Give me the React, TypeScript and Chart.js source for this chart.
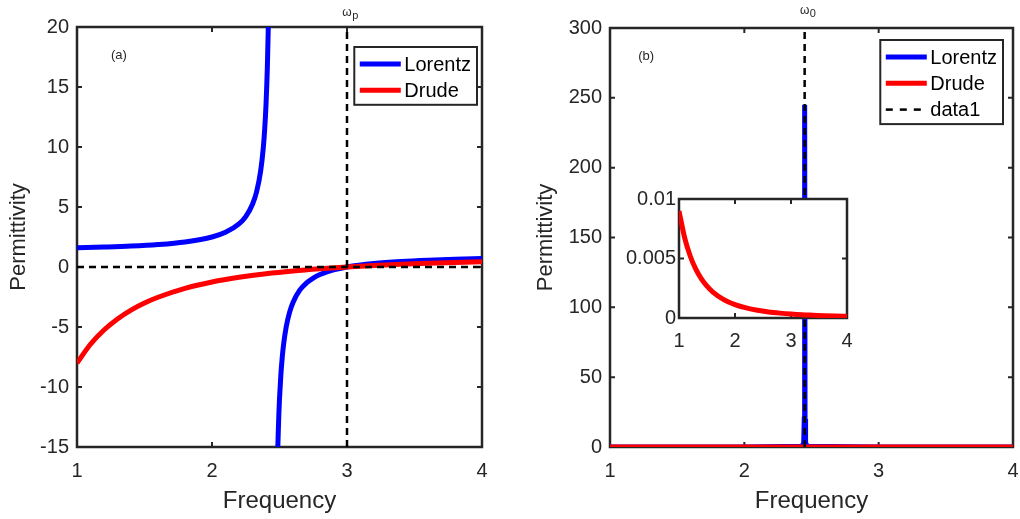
import React, { useEffect, useRef } from "react";
import { Chart, registerables } from "chart.js";

Chart.register(...registerables);

const FONT = "'Liberation Sans', Arial, Helvetica, sans-serif";
const AXIS = "#262626";
const BLUE = "#0000ff";
const RED = "#ff0000";
const BLACK = "#000000";

// ---------- tick labels ----------
const FREQ_TICKS = [1, 2, 3, 4];
const PERM_TICKS_A = [-15, -10, -5, 0, 5, 10, 15, 20];
const PERM_TICKS_B = [0, 50, 100, 150, 200, 250, 300];
const INSET_TICKS = [0, 0.005, 0.01];

// ---------- marker lines ----------
const OMEGA_P = 3;
const OMEGA_0 = 2.449;

// ---------- panel (a): real permittivity ----------
const LORENTZ_A_FREQ = [1, 1.2, 1.4, 1.6, 1.8, 2.0, 2.1, 2.2, 2.25, 2.3, 2.33, 2.36, 2.38, 2.39, 2.4, 2.41, 2.417, 2.45, 2.4875, 2.495, 2.5, 2.51, 2.52, 2.53, 2.55, 2.575, 2.6, 2.65, 2.7, 2.75, 2.8, 2.9, 3.0, 3.2, 3.4, 3.6, 3.8, 4.0];
const LORENTZ_A_PERM = [1.6, 1.66, 1.74, 1.87, 2.09, 2.5, 2.89, 3.59, 4.2, 5.23, 6.25, 7.97, 9.94, 11.42, 13.5, 16.63, 20, null, -15, -12.33, -11, -9.0, -7.56, -6.48, -4.97, -3.76, -2.95, -1.93, -1.33, -0.92, -0.63, -0.245, 0, 0.29, 0.46, 0.57, 0.645, 0.7];
const DRUDE_A_FREQ = [1, 1.1, 1.2, 1.3, 1.4, 1.5, 1.6, 1.8, 2.0, 2.2, 2.4, 2.6, 2.8, 3.0, 3.2, 3.4, 3.6, 3.8, 4.0];
const DRUDE_A_PERM = [-8, -6.44, -5.25, -4.33, -3.59, -3, -2.52, -1.78, -1.25, -0.86, -0.56, -0.33, -0.15, 0, 0.12, 0.22, 0.31, 0.38, 0.44];

// ---------- panel (b): imaginary permittivity ----------
const LORENTZ_B_FREQ = [1, 2, 2.43, 2.442, 2.446, 2.449, 2.452, 2.456, 2.468, 3, 4];
const LORENTZ_B_PERM = [0, 0, 0.5, 3, 20, 245, 20, 3, 0.5, 0, 0];
const DRUDE_B_FREQ = [1, 1.1, 1.2, 1.3, 1.4, 1.5, 1.6, 1.8, 2.0, 2.2, 2.4, 2.6, 2.8, 3.0, 3.2, 3.4, 3.6, 3.8, 4.0];
const DRUDE_B_PERM = [0.009, 0.00676, 0.00521, 0.0041, 0.00328, 0.00267, 0.0022, 0.00154, 0.00113, 0.00085, 0.00065, 0.00051, 0.00041, 0.00033, 0.00027, 0.00023, 0.00019, 0.00016, 0.00014];

const pts = (xs: number[], ys: (number | null)[]) => xs.map((x, i) => ({ x, y: ys[i] }));

const fixedTicks = (values: number[]) => (scale: any) => {
  scale.ticks = values.map((v) => ({ value: v }));
};

// ---------- plugins ----------
const framePlugin = {
  id: "frame",
  beforeDatasetsDraw(chart: any, _a: any, opts: any) {
    const { ctx, chartArea: a, scales } = chart;
    ctx.save();
    if (opts && opts.fill) {
      ctx.fillStyle = opts.fill;
      ctx.fillRect(a.left, a.top, a.right - a.left, a.bottom - a.top);
    }
    ctx.strokeStyle = AXIS;
    ctx.lineWidth = 2.5;
    ctx.strokeRect(a.left, a.top, a.right - a.left, a.bottom - a.top);
    ctx.lineWidth = 2;
    const L = 5;
    ctx.beginPath();
    for (const t of scales.x.ticks) {
      const px = scales.x.getPixelForValue(t.value);
      ctx.moveTo(px, a.bottom);
      ctx.lineTo(px, a.bottom - L);
      ctx.moveTo(px, a.top);
      ctx.lineTo(px, a.top + L);
    }
    for (const t of scales.y.ticks) {
      const py = scales.y.getPixelForValue(t.value);
      ctx.moveTo(a.left, py);
      ctx.lineTo(a.left + L, py);
      ctx.moveTo(a.right, py);
      ctx.lineTo(a.right - L, py);
    }
    ctx.stroke();
    ctx.restore();
  },
};

const boxLegendPlugin = {
  id: "boxLegend",
  afterDraw(chart: any, _a: any, opts: any) {
    if (!opts || !opts.show) return;
    const { ctx, chartArea: a } = chart;
    const ds = chart.data.datasets.filter((d: any) => d.inLegend);
    ctx.save();
    ctx.font = `20px ${FONT}`;
    const textW = Math.max(...ds.map((d: any) => ctx.measureText(d.label).width));
    const padL = 5.5, lineLen = 41, gap = 3.5, padR = 6, padT = 17, rowH = 26.3, padB = 14.5;
    const w = padL + lineLen + gap + textW + padR;
    const h = padT + rowH * (ds.length - 1) + padB;
    const x0 = a.right - opts.right - w;
    const y0 = a.top + opts.top;
    ctx.fillStyle = "#ffffff";
    ctx.fillRect(x0, y0, w, h);
    ctx.strokeStyle = AXIS;
    ctx.lineWidth = 2;
    ctx.strokeRect(x0, y0, w, h);
    ds.forEach((d: any, i: number) => {
      const cy = y0 + padT + i * rowH;
      ctx.beginPath();
      ctx.strokeStyle = d.borderColor;
      ctx.lineWidth = d.legendWidth || d.borderWidth;
      ctx.setLineDash(d.legendDash || []);
      ctx.moveTo(x0 + padL, cy);
      ctx.lineTo(x0 + padL + lineLen, cy);
      ctx.stroke();
      ctx.setLineDash([]);
      ctx.fillStyle = BLACK;
      ctx.textAlign = "left";
      ctx.textBaseline = "middle";
      ctx.fillText(d.label, x0 + padL + lineLen + gap, cy + 1);
    });
    ctx.restore();
  },
};

const notePlugin = {
  id: "notes",
  afterDraw(chart: any, _a: any, opts: any) {
    const { ctx, scales } = chart;
    for (const n of (opts && opts.items) || []) {
      const px = scales.x.getPixelForValue(n.x);
      const py = scales.y.getPixelForValue(n.y);
      ctx.save();
      ctx.fillStyle = AXIS;
      ctx.font = `${n.size}px ${FONT}`;
      if (n.sub) {
        const w = ctx.measureText(n.text).width;
        ctx.textAlign = "center";
        ctx.textBaseline = "alphabetic";
        ctx.fillText(n.text, px, py);
        ctx.font = `${n.subSize}px ${FONT}`;
        ctx.textAlign = "left";
        ctx.fillText(n.sub, px + w / 2 + 0.5, py + 3);
      } else {
        ctx.textAlign = "left";
        ctx.textBaseline = "middle";
        ctx.fillText(n.text, px, py);
      }
      ctx.restore();
    }
  },
};

// ---------- scale helpers ----------
function freqAxis(labelPad: number, title: string | null, height: number) {
  return {
    type: "linear",
    position: "bottom",
    min: 1,
    max: 4,
    grid: { display: false, drawTicks: false },
    border: { display: false },
    afterBuildTicks: fixedTicks(FREQ_TICKS),
    ticks: {
      padding: labelPad,
      color: AXIS,
      font: { family: FONT, size: 20 },
      maxRotation: 0,
      autoSkip: false,
      callback: (v: any) => String(v),
    },
    title: title
      ? { display: true, text: title, color: AXIS, font: { family: FONT, size: 24 }, padding: { top: 0, bottom: 3 } }
      : { display: false },
    afterFit: (s: any) => {
      s.height = height;
      s.paddingLeft = 0;
      s.paddingRight = 0;
    },
  };
}

function permAxis(ticks: number[], labelPad: number, title: string | null, titlePad: number, width: number) {
  return {
    type: "linear",
    position: "left",
    min: ticks[0],
    max: ticks[ticks.length - 1],
    grid: { display: false, drawTicks: false },
    border: { display: false },
    afterBuildTicks: fixedTicks(ticks),
    ticks: {
      padding: labelPad,
      color: AXIS,
      font: { family: FONT, size: 20 },
      autoSkip: false,
      callback: (v: any) => String(v),
    },
    title: title
      ? { display: true, text: title, color: AXIS, font: { family: FONT, size: 22 }, padding: { top: titlePad, bottom: 0 } }
      : { display: false },
    afterFit: (s: any) => {
      s.width = width;
      s.paddingTop = 0;
      s.paddingBottom = 0;
    },
  };
}

const baseOptions = {
  responsive: false,
  animation: false,
  events: [],
  devicePixelRatio: 1,
};

// ---------- configs ----------
function configA(): any {
  return {
    type: "line",
    data: {
      datasets: [
        {
          label: "Lorentz",
          data: pts(LORENTZ_A_FREQ, LORENTZ_A_PERM),
          borderColor: BLUE,
          borderWidth: 5,
          pointRadius: 0,
          cubicInterpolationMode: "monotone",
          spanGaps: false,
          inLegend: true,
          order: 2,
        },
        {
          label: "Drude",
          data: pts(DRUDE_A_FREQ, DRUDE_A_PERM),
          borderColor: RED,
          borderWidth: 5,
          pointRadius: 0,
          cubicInterpolationMode: "monotone",
          inLegend: true,
          order: 1,
        },
        {
          label: "zero",
          data: [
            { x: FREQ_TICKS[0], y: 0 },
            { x: FREQ_TICKS[FREQ_TICKS.length - 1], y: 0 },
          ],
          borderColor: BLACK,
          borderWidth: 2.5,
          borderDash: [7, 5],
          pointRadius: 0,
          order: 0,
        },
        {
          label: "wp",
          data: [
            { x: OMEGA_P, y: PERM_TICKS_A[0] },
            { x: OMEGA_P, y: PERM_TICKS_A[PERM_TICKS_A.length - 1] },
          ],
          borderColor: BLACK,
          borderWidth: 2.5,
          borderDash: [7, 5],
          pointRadius: 0,
          order: 0,
        },
      ],
    },
    options: {
      ...baseOptions,
      layout: { padding: { left: 0, right: 28, top: 27, bottom: 0 } },
      scales: {
        x: freqAxis(12, "Frequency", 72),
        y: permAxis(PERM_TICKS_A, 8, "Permittivity", 6, 77),
      },
      plugins: {
        legend: { display: false },
        tooltip: { enabled: false },
        frame: {},
        boxLegend: { show: true, right: 5, top: 20 },
        notes: {
          items: [
            { x: 1.252, y: 17.6, text: "(a)", size: 13 },
            { x: OMEGA_P, y: 20.92, text: "ω", sub: "p", size: 12, subSize: 11 },
          ],
        },
      },
    },
    plugins: [framePlugin, boxLegendPlugin, notePlugin],
  };
}

function configB(): any {
  return {
    type: "line",
    data: {
      datasets: [
        {
          label: "Lorentz",
          data: pts(LORENTZ_B_FREQ, LORENTZ_B_PERM),
          borderColor: BLUE,
          borderWidth: 5,
          pointRadius: 0,
          inLegend: true,
          order: 2,
        },
        {
          label: "Drude",
          data: pts(DRUDE_B_FREQ, DRUDE_B_PERM),
          borderColor: RED,
          borderWidth: 5,
          pointRadius: 0,
          cubicInterpolationMode: "monotone",
          inLegend: true,
          order: 1,
        },
        {
          label: "data1",
          data: [
            { x: OMEGA_0, y: PERM_TICKS_B[0] },
            { x: OMEGA_0, y: PERM_TICKS_B[PERM_TICKS_B.length - 1] },
          ],
          borderColor: BLACK,
          borderWidth: 2.5,
          borderDash: [7, 5],
          legendDash: [7, 7],
          pointRadius: 0,
          inLegend: true,
          order: 0,
        },
      ],
    },
    options: {
      ...baseOptions,
      layout: { padding: { left: 0, right: 7, top: 28, bottom: 0 } },
      scales: {
        x: freqAxis(12, "Frequency", 72),
        y: permAxis(PERM_TICKS_B, 8, "Permittivity", 23, 100),
      },
      plugins: {
        legend: { display: false },
        tooltip: { enabled: false },
        frame: {},
        boxLegend: { show: true, right: 10, top: 12 },
        notes: {
          items: [
            { x: 1.21, y: 279.5, text: "(b)", size: 13 },
            { x: OMEGA_0, y: 310, text: "ω", sub: "0", size: 12, subSize: 11 },
          ],
        },
      },
    },
    plugins: [framePlugin, boxLegendPlugin, notePlugin],
  };
}

function configInset(): any {
  return {
    type: "line",
    data: {
      datasets: [
        {
          label: "Drude",
          data: pts(DRUDE_B_FREQ, DRUDE_B_PERM),
          borderColor: RED,
          borderWidth: 5,
          pointRadius: 0,
          cubicInterpolationMode: "monotone",
        },
      ],
    },
    options: {
      ...baseOptions,
      layout: { padding: { left: 0, right: 13, top: 14, bottom: 0 } },
      scales: {
        x: freqAxis(11, null, 37),
        y: permAxis(INSET_TICKS, 3, null, 0, 79),
      },
      plugins: {
        legend: { display: false },
        tooltip: { enabled: false },
        frame: { fill: "#ffffff" },
        boxLegend: { show: false },
        notes: { items: [] },
      },
    },
    plugins: [framePlugin, boxLegendPlugin, notePlugin],
  };
}

function ChartBox(props: { left: number; top: number; width: number; height: number; make: () => any }) {
  const ref = useRef<HTMLCanvasElement | null>(null);
  useEffect(() => {
    if (!ref.current) return;
    const chart = new Chart(ref.current, props.make());
    return () => chart.destroy();
  }, []);
  return (
    <canvas
      ref={ref}
      width={props.width}
      height={props.height}
      style={{ position: "absolute", left: props.left, top: props.top, width: props.width, height: props.height }}
    />
  );
}

export default function App() {
  return (
    <div style={{ position: "absolute", left: 0, top: 0, width: 1020, height: 519, background: "#ffffff", overflow: "hidden" }}>
      <ChartBox left={0} top={0} width={510} height={519} make={configA} />
      <ChartBox left={510} top={0} width={510} height={519} make={configB} />
      <ChartBox left={600} top={185} width={260} height={170} make={configInset} />
    </div>
  );
}
